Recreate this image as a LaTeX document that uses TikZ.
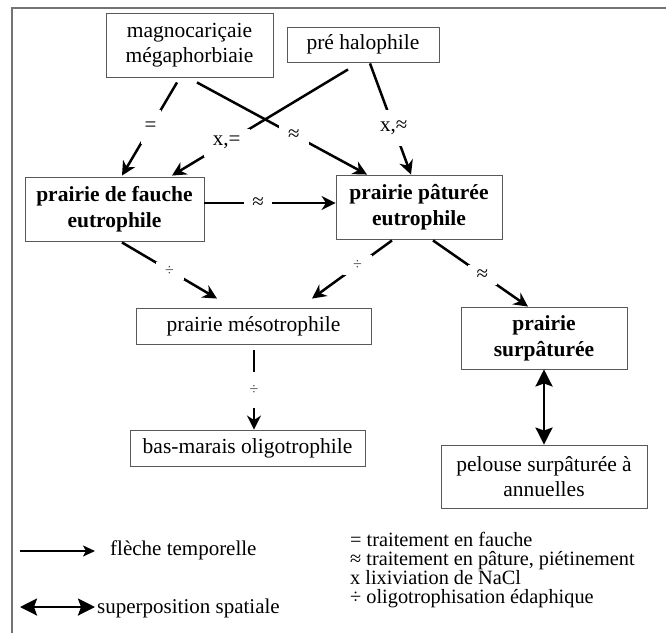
\documentclass[tikz,border=0pt]{standalone}
\usepackage{fontspec}
\setmainfont{Liberation Serif}
\usetikzlibrary{arrows.meta,calc}
\begin{document}
\begin{tikzpicture}[x=1pt,y=-1pt,
  box/.style={draw=black!65, line width=0.9pt, align=center, inner sep=0pt,
    font=\fontsize{21.5}{25.5}\selectfont},
  arr/.style={line width=2.5pt, -{Stealth[length=14pt,width=14pt,inset=4.5pt]}},
  dbl/.style={line width=2.6pt, {Stealth[length=17pt,width=17pt,inset=3pt]}-{Stealth[length=17pt,width=17pt,inset=3pt]}},
  gap/.style={fill=white, inner sep=0pt, font=\fontsize{21}{21}\selectfont},
  sgap/.style={gap, text=black!75, font=\fontsize{16}{16}\selectfont},
  legtxt/.style={anchor=base west, inner sep=0pt, font=\fontsize{21}{21}\selectfont},
  rlegtxt/.style={anchor=base west, inner sep=0pt, font=\fontsize{20.3}{20.3}\selectfont}]
\useasboundingbox (0,0) rectangle (666,635);
% frame
\draw[black!55, line width=2pt] (12,633) -- (12,8) -- (666,8);
% boxes
\node[box, minimum width=167pt, minimum height=64pt] (mag) at (189.5,45) {magnocariçaie\\mégaphorbiaie};
\node[box, minimum width=152pt, minimum height=35pt] (pre) at (363,44.5) {pré halophile};
\node[box, minimum width=179pt, minimum height=64pt, font=\bfseries\fontsize{21.5}{25.5}\selectfont] (fauche) at (114.5,209) {prairie de fauche\\eutrophile};
\node[box, minimum width=166pt, minimum height=64pt, font=\bfseries\fontsize{21.5}{26.5}\selectfont] (pat) at (419,207) {prairie pâturée\\eutrophile};
\node[box, minimum width=235pt, minimum height=36pt] (meso) at (253.5,326) {prairie mésotrophile};
\node[box, minimum width=166pt, minimum height=62pt, font=\bfseries\fontsize{21.5}{26}\selectfont] (surp) at (544,338) {prairie\\surpâturée};
\node[box, minimum width=235pt, minimum height=36pt] (bas) at (247.5,448) {bas-marais oligotrophile};
\node[box, minimum width=206pt, minimum height=63pt] (pel) at (544,476.5) {pelouse surpâturée à\\annuelles};
% connectors
\draw[arr] ($(mag.south)+(-12.5,5)$) -- node[gap, pos=.48, minimum width=20pt, minimum height=34pt]{=} ($(fauche.north)+(7.5,-1)$);
\draw[arr] ($(mag.south)+(7.5,5)$) -- node[gap, pos=.57, minimum width=30pt, minimum height=20pt]{≈} ($(pat.north)+(-52,0)$);
\draw[arr] ($(pre.south)+(-15,7)$) -- node[gap, pos=.69, minimum width=46pt, minimum height=28pt]{x,=} ($(fauche.north)+(57.5,-1)$);
\draw[arr] ($(pre.south)+(7,1)$) -- node[gap, pos=.58, minimum width=34pt, minimum height=36pt]{x,≈} ($(pat.north)+(-8,0)$);
\draw[arr] ($(fauche.east)+(0,-6)$) -- node[gap, pos=.41, minimum width=28pt, minimum height=16pt]{≈} ($(pat.west)+(0,-4)$);
\draw[arr] ($(fauche.south)+(7.5,1)$) -- node[sgap, pos=.5, minimum width=28pt, minimum height=18pt]{÷} ($(meso.north)+(-36.5,-9)$);
\draw[arr] ($(pat.south)+(-27,1)$) -- node[sgap, pos=.43, minimum width=29pt, minimum height=20pt]{÷} ($(meso.north)+(58.5,-9)$);
\draw[arr] ($(pat.south)+(14,1)$) -- node[gap, pos=.52, minimum width=29pt, minimum height=20pt]{≈} ($(surp.north)+(-16,0)$);
\draw[arr] ($(meso.south)+(0.5,6)$) -- node[sgap, pos=.5, minimum width=16pt, minimum height=36pt]{÷} ($(meso.south |- bas.north)+(0.5,0)$);
\draw[dbl] (surp.south) -- (pel.north);
% legend left
\node[legtxt] (lt1) at (110,555) {flèche temporelle};
\coordinate (la1) at (20,551);
\draw[line width=1.6pt, -{Stealth[length=12pt,width=11pt,inset=3pt]}] (la1) -- (la1 -| 95,0);
\node[legtxt] (lt2) at (97,613) {superposition spatiale};
\coordinate (la2) at (20,607);
\draw[dbl] (la2) -- (la2 -| 95,0);
% legend right
\node[rlegtxt] (l1) at (350,546) {= traitement en fauche};
\node[rlegtxt] (l2) at (350,565) {≈ traitement en pâture, piétinement};
\node[rlegtxt] (l3) at (350,584) {x lixiviation de NaCl};
\node[rlegtxt] (l4) at (350,603) {÷ oligotrophisation édaphique};
\end{tikzpicture}
\end{document}
